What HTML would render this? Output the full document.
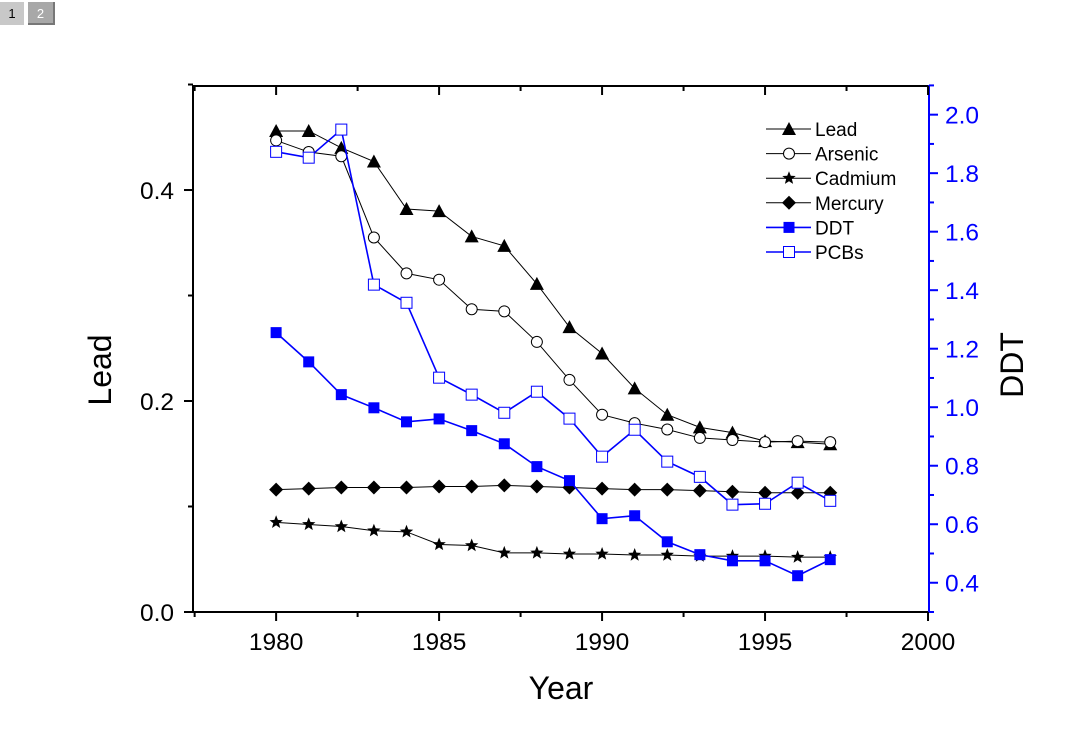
<!DOCTYPE html>
<html><head><meta charset="utf-8"><style>
body{margin:0;background:#fff;width:1080px;height:733px;overflow:hidden;font-family:"Liberation Sans",Arial,sans-serif}
.tab{position:absolute;top:2px;width:24px;height:23px;font-size:13px;text-align:center;line-height:23px}
</style></head><body>
<div class="tab" style="left:0;background:#c8c8c8;color:#000">1</div>
<div class="tab" style="left:28px;width:25px;background:#a8a8a8;color:#fff;border-right:2px solid #777;border-bottom:2px solid #777;height:21px">2</div>
<svg id="chart" width="1080" height="733" style="position:absolute;left:0;top:0" font-family="Liberation Sans, Arial, sans-serif"></svg>
<script>
const years=[1980,1981,1982,1983,1984,1985,1986,1987,1988,1989,1990,1991,1992,1993,1994,1995,1996,1997];
const lead=[0.456,0.456,0.44,0.427,0.382,0.38,0.356,0.347,0.311,0.27,0.245,0.212,0.187,0.175,0.17,0.162,0.161,0.159];
const arsenic=[0.447,0.436,0.432,0.355,0.321,0.315,0.287,0.285,0.256,0.22,0.187,0.179,0.173,0.165,0.163,0.161,0.162,0.161];
const cadmium=[0.085,0.083,0.081,0.077,0.076,0.064,0.063,0.056,0.056,0.055,0.055,0.054,0.054,0.053,0.053,0.053,0.052,0.052];
const mercury=[0.116,0.117,0.118,0.118,0.118,0.119,0.119,0.12,0.119,0.118,0.117,0.116,0.116,0.115,0.114,0.113,0.113,0.113];
const ddt=[1.255,1.155,1.043,0.998,0.95,0.96,0.92,0.875,0.797,0.749,0.619,0.629,0.54,0.496,0.475,0.475,0.424,0.479];
const pcbs=[1.873,1.853,1.949,1.419,1.357,1.101,1.043,0.981,1.053,0.961,0.831,0.923,0.814,0.762,0.667,0.67,0.742,0.68];
const xTicks=[1980,1985,1990,1995,2000];
const yLTicks=[0.0,0.2,0.4];
const yRTicks=[0.4,0.6,0.8,1.0,1.2,1.4,1.6,1.8,2.0];

const L=193,R=929,T=86,B=612;
const X0=1977.45,X1=2000.03;
const x=v=>L+(v-X0)/(X1-X0)*(R-L);
const yl=v=>B-v/0.4986*(B-T);
const yr=v=>B-(v-0.3)/1.798*(B-T);
const svg=document.getElementById('chart');
const NS='http://www.w3.org/2000/svg';
function mk(tag,attrs,name,parent){const e=document.createElementNS(NS,tag);for(const k in attrs)e.setAttribute(k,attrs[k]);


(parent||svg).appendChild(e);return e;}
function txt(s,attrs,name){const t=mk('text',attrs,name);t.textContent=s;return t;}

mk('line',{x1:L,y1:T,x2:R,y2:T,stroke:'#000','stroke-width':2},'top-axis');
mk('line',{x1:L,y1:T-1,x2:L,y2:B+1,stroke:'#000','stroke-width':2},'left-axis');
mk('line',{x1:L-1,y1:B,x2:R,y2:B,stroke:'#000','stroke-width':2},'x-axis');
mk('line',{x1:R,y1:T-1,x2:R,y2:B+1,stroke:'#00f','stroke-width':2},'right-axis');
for(let v=1977.5;v<=2000.01;v+=2.5){const major=Math.abs(v%5)<0.01;
 mk('line',{x1:x(v),y1:B,x2:x(v),y2:B+(major?9:5),stroke:'#000','stroke-width':2},'x-tick');
 mk('line',{x1:x(v),y1:T,x2:x(v),y2:T+(major?9:5),stroke:'#000','stroke-width':2},'top-tick');}
xTicks.forEach(v=>txt(String(v),{x:x(v),y:650,'text-anchor':'middle','font-size':24.5},'x-tick-label'));
for(let v=0;v<=0.5001;v+=0.1){const major=Math.round(v*10)%2==0;
 mk('line',{x1:L,y1:yl(v),x2:L-(major?9:5),y2:yl(v),stroke:'#000','stroke-width':2},'y-left-tick');}
yLTicks.forEach(v=>txt(v.toFixed(1),{x:174,y:yl(v)+9,'text-anchor':'end','font-size':24.5},'y-left-tick-label'));
for(let v=0.3;v<=2.1001;v+=0.1){const major=Math.round(v*10)%2==0;
 mk('line',{x1:R,y1:yr(v),x2:R+(major?9:5),y2:yr(v),stroke:'#00f','stroke-width':2},'y-right-tick');}
yRTicks.forEach(v=>txt(v.toFixed(1),{x:945,y:yr(v)+9,'font-size':24.5,fill:'#00f'},'y-right-tick-label'));
txt('Year',{x:561,y:699,'text-anchor':'middle','font-size':32},'x-axis-title');
txt('Lead',{x:0,y:0,'text-anchor':'middle','font-size':32,transform:'translate(111,370) rotate(-90)'},'y-left-axis-title');
txt('DDT',{x:0,y:0,'text-anchor':'middle','font-size':32,transform:'translate(1023,365) rotate(-90)'},'y-right-axis-title');

function marker(kind,cx,cy,color,name){
 if(kind==='tri')mk('polygon',{points:`${cx},${cy-7} ${cx-7},${cy+6} ${cx+7},${cy+6}`,fill:'#000'},name);
 else if(kind==='circ')mk('circle',{cx,cy,r:5.5,fill:'#fff',stroke:'#000','stroke-width':1},name);
 else if(kind==='star'){let p=[];for(let i=0;i<10;i++){const r=i%2?3:7,a=-Math.PI/2+i*Math.PI/5;p.push((cx+r*Math.cos(a)).toFixed(1)+','+(cy+r*Math.sin(a)).toFixed(1));}
  mk('polygon',{points:p.join(' '),fill:'#000'},name);}
 else if(kind==='dia')mk('polygon',{points:`${cx},${cy-7} ${cx+7},${cy} ${cx},${cy+7} ${cx-7},${cy}`,fill:'#000'},name);
 else if(kind==='sq')mk('rect',{x:cx-5.5,y:cy-5.5,width:11,height:11,fill:'#00f'},name);
 else if(kind==='osq')mk('rect',{x:cx-5.5,y:cy-5.5,width:11,height:11,fill:'#fff',stroke:'#00f','stroke-width':1},name);
}
const series=[
 {name:'lead',data:lead,ys:yl,kind:'tri',color:'#000',label:'Lead'},
 {name:'arsenic',data:arsenic,ys:yl,kind:'circ',color:'#000',label:'Arsenic'},
 {name:'cadmium',data:cadmium,ys:yl,kind:'star',color:'#000',label:'Cadmium'},
 {name:'mercury',data:mercury,ys:yl,kind:'dia',color:'#000',label:'Mercury'},
 {name:'ddt',data:ddt,ys:yr,kind:'sq',color:'#00f',label:'DDT'},
 {name:'pcbs',data:pcbs,ys:yr,kind:'osq',color:'#00f',label:'PCBs'}];
series.forEach(s=>{
 mk('polyline',{points:s.data.map((v,i)=>x(years[i])+','+s.ys(v)).join(' '),fill:'none',stroke:s.color,'stroke-width':s.color==='#00f'?1.6:1},s.name+'-line');
 s.data.forEach((v,i)=>marker(s.kind,x(years[i]),s.ys(v),s.color,s.name+'-point'));
});
series.forEach((s,i)=>{const ly=129+i*24.6;
 mk('line',{x1:766,y1:ly,x2:811,y2:ly,stroke:s.color,'stroke-width':s.color==='#00f'?1.6:1},'legend-line-'+s.name);
 marker(s.kind,789,ly,s.color,'legend-marker-'+s.name);
 txt(s.label,{x:815,y:ly+7,'font-size':19},'legend-entry-'+s.name);
});
</script>
</body></html>
